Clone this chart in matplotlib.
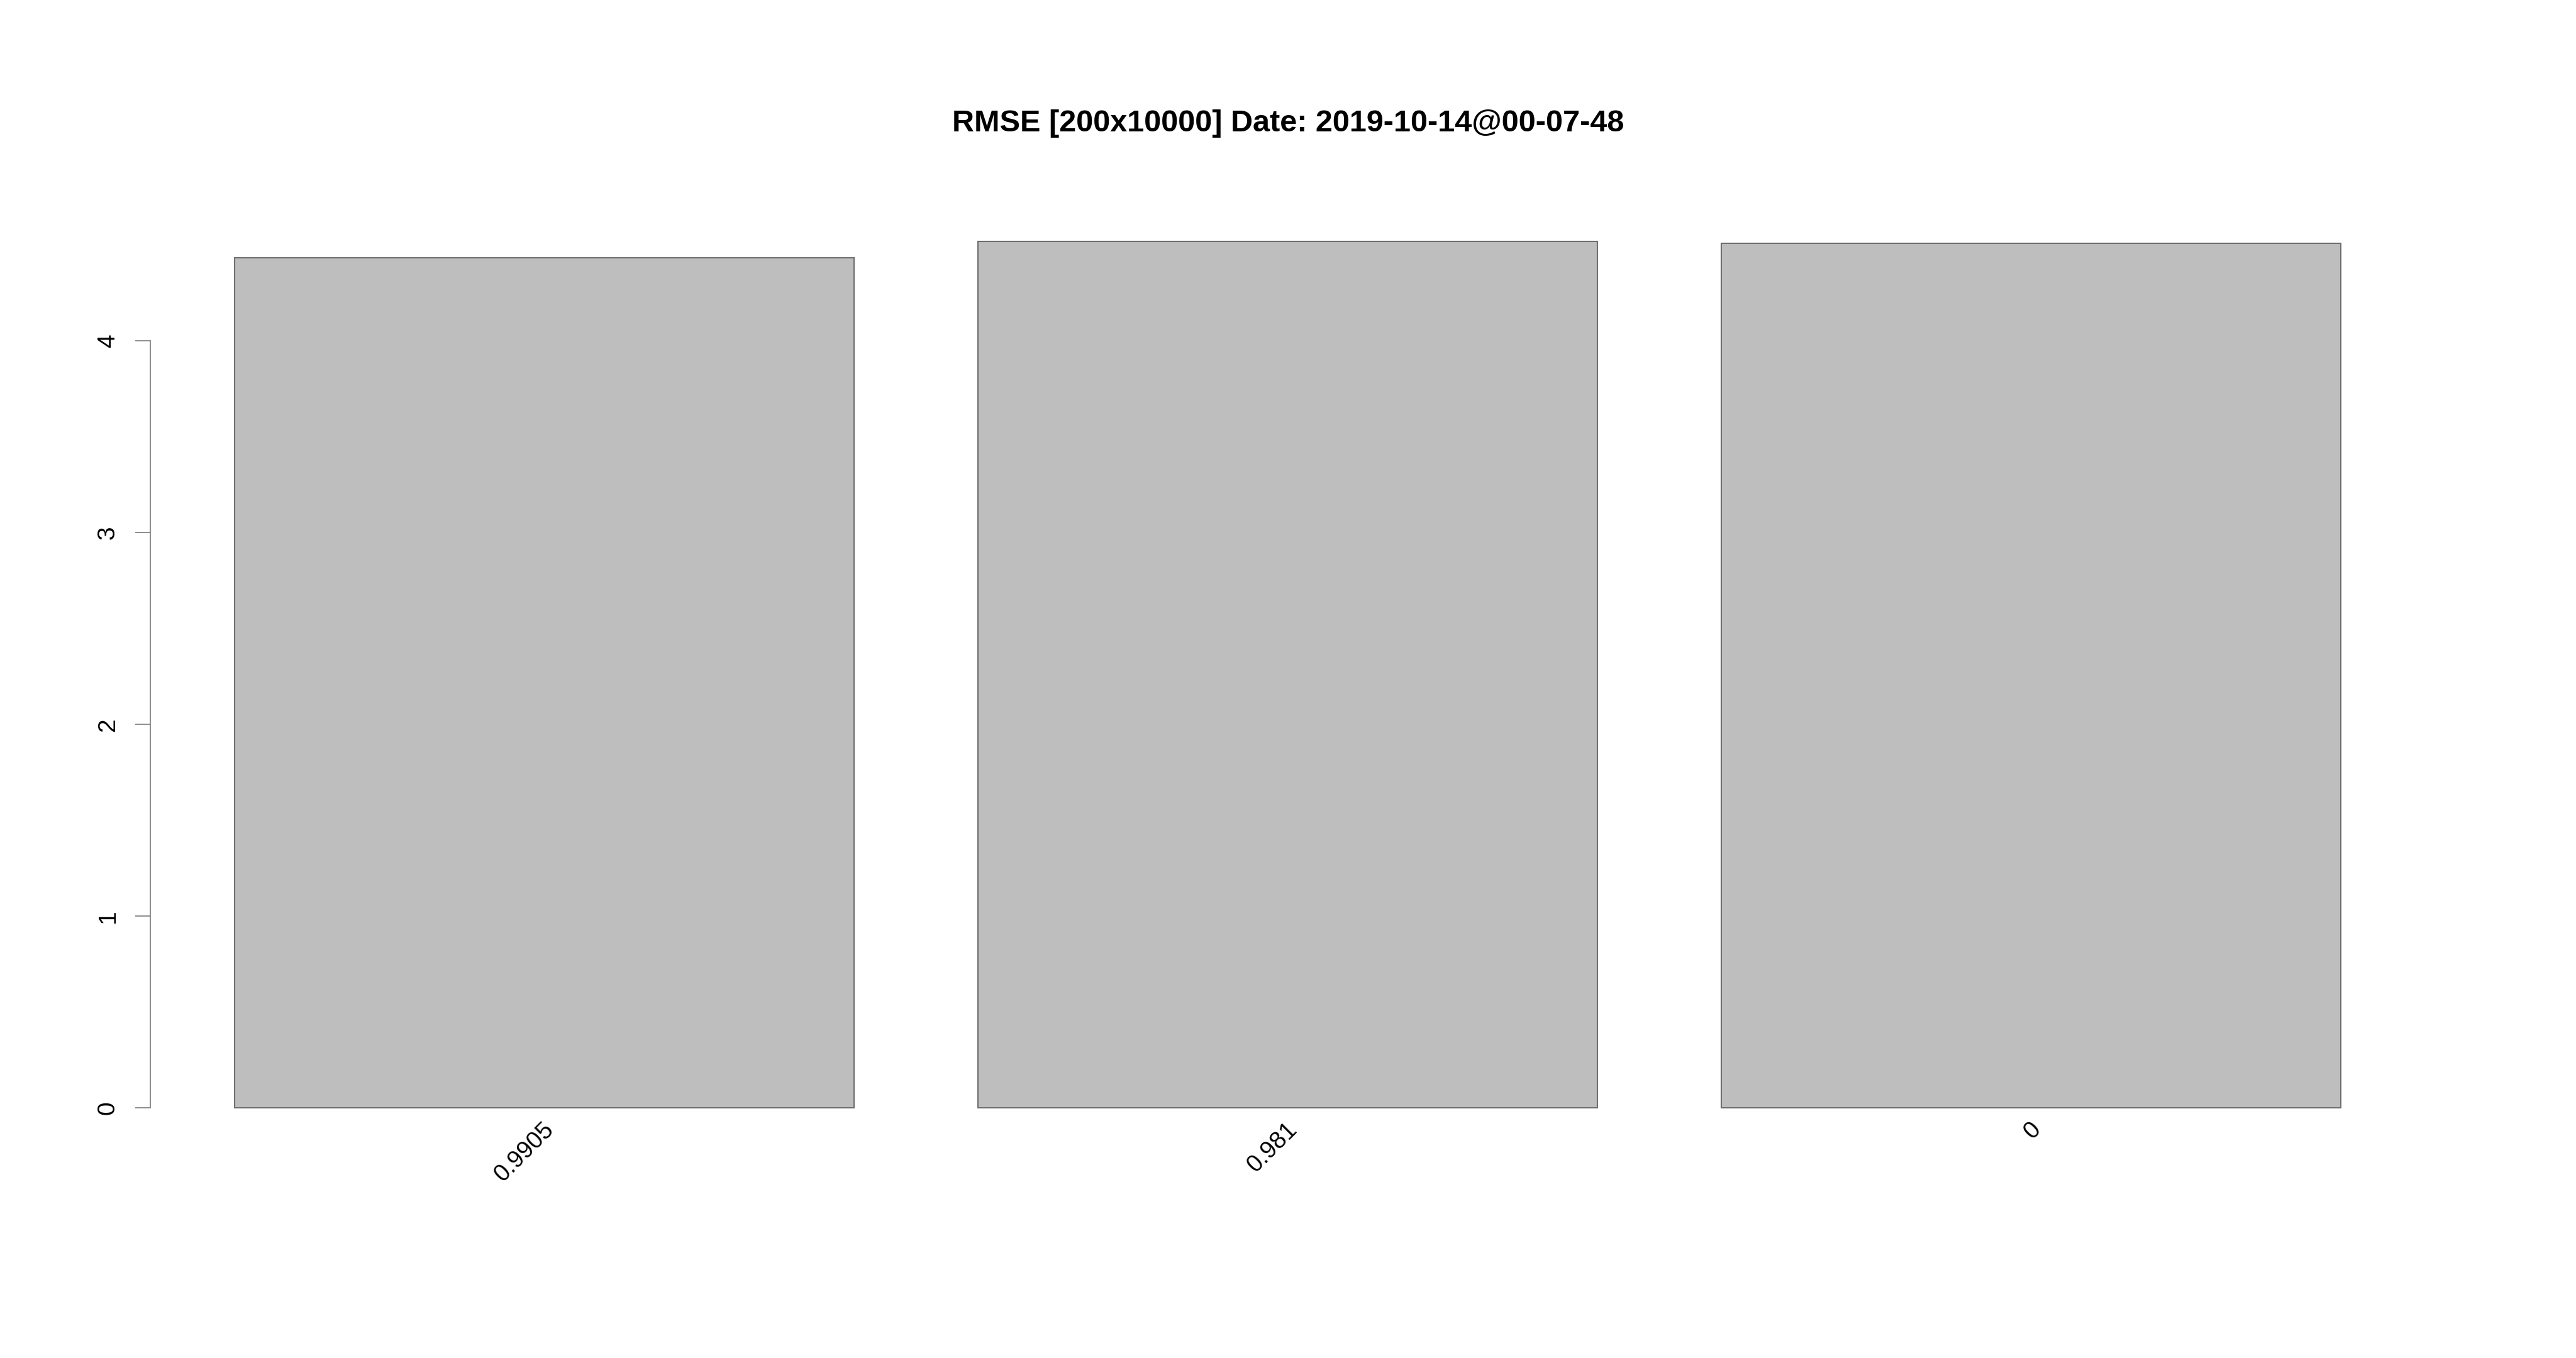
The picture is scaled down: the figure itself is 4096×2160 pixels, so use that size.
import numpy as np
import matplotlib.pyplot as plt
from matplotlib.transforms import ScaledTranslation

plt.rcParams['font.family'] = ['Liberation Sans', 'DejaVu Sans']

# values
labels = ["0.9905", "0.981", "0"]
rmse = [4.433, 4.518, 4.510]
title = "RMSE [200x10000] Date: 2019-10-14@00-07-48"

W, H, DPI = 4096, 2160, 100
fig = plt.figure(figsize=(W / DPI, H / DPI), dpi=DPI)
# plot region measured in pixels (R barplot layout)
left, right, bottom, top = 239, 3856, 1817, 329
ax = fig.add_axes([left / W, 1 - bottom / H, (right - left) / W, (bottom - top) / H])

# R style bars: width 1, space 0.2
x = 0.2 + 1.2 * np.arange(len(rmse)) + 0.5
ax.bar(x, rmse, width=1.0, color="#bebebe", edgecolor="#6e6e6e", linewidth=1.5)

xmin, xmax = 0.2, 0.2 + 1.2 * len(rmse) - 0.2
ext = 0.04 * (xmax - xmin)
ax.set_xlim(xmin - ext, xmax + ext)
ymax = max(rmse)
ax.set_ylim(-0.04 * ymax, 1.04 * ymax)

for s in ["top", "right", "bottom"]:
    ax.spines[s].set_visible(False)
ax.spines["left"].set_bounds(0, 4)
ax.spines["left"].set_color("#8c8c8c")
ax.spines["left"].set_linewidth(1.4)

ax.set_xticks([])
ax.set_yticks(range(0, 5))
ax.tick_params(axis="y", length=17.3, width=1.4, color="#8c8c8c",
               labelsize=28, pad=18, labelrotation=90)
for t in ax.get_yticklabels():
    t.set_va("center")

# rotated category labels under the bars
off = ScaledTranslation(10 / DPI, -29 / DPI, fig.dpi_scale_trans)
for xi, lab in zip(x, labels):
    ax.text(xi, 0, lab, rotation=45, ha="right", va="center",
            rotation_mode="anchor", fontsize=27.5, transform=ax.transData + off,
            clip_on=False)

fig.text(0.5, 1 - 209 / H, title, ha="center", va="baseline",
         fontsize=35, fontweight="bold")

fig.savefig("out.png", dpi=DPI, facecolor="white")
